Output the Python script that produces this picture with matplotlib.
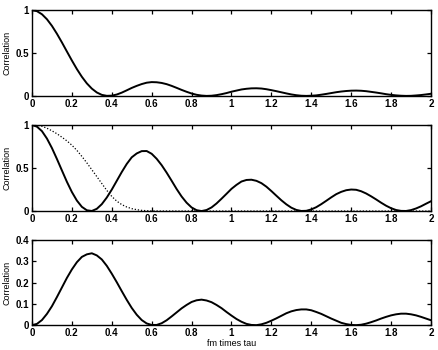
import matplotlib
matplotlib.use("Agg")
import matplotlib.pyplot as plt

fm_tau = [0.000, 0.025, 0.050, 0.075, 0.100, 0.125, 0.150, 0.175, 0.200, 0.225,
          0.250, 0.275, 0.300, 0.325, 0.350, 0.375, 0.400, 0.425, 0.450, 0.475,
          0.500, 0.525, 0.550, 0.575, 0.600, 0.625, 0.650, 0.675, 0.700, 0.725,
          0.750, 0.775, 0.800, 0.825, 0.850, 0.875, 0.900, 0.925, 0.950, 0.975,
          1.000, 1.025, 1.050, 1.075, 1.100, 1.125, 1.150, 1.175, 1.200, 1.225,
          1.250, 1.275, 1.300, 1.325, 1.350, 1.375, 1.400, 1.425, 1.450, 1.475,
          1.500, 1.525, 1.550, 1.575, 1.600, 1.625, 1.650, 1.675, 1.700, 1.725,
          1.750, 1.775, 1.800, 1.825, 1.850, 1.875, 1.900, 1.925, 1.950, 1.975,
          2.000]

top_corr = [1.000, 0.988, 0.952, 0.894, 0.817, 0.725, 0.624, 0.518, 0.413, 0.313,
            0.223, 0.146, 0.085, 0.040, 0.012, 0.001, 0.003, 0.016, 0.038, 0.065,
            0.093, 0.117, 0.138, 0.154, 0.161, 0.159, 0.151, 0.137, 0.117, 0.094,
            0.070, 0.048, 0.028, 0.013, 0.004, 0.000, 0.002, 0.009, 0.020, 0.033,
            0.049, 0.062, 0.075, 0.083, 0.088, 0.089, 0.086, 0.078, 0.067, 0.055,
            0.042, 0.029, 0.017, 0.008, 0.002, 0.000, 0.002, 0.006, 0.014, 0.023,
            0.033, 0.043, 0.051, 0.057, 0.061, 0.062, 0.060, 0.055, 0.047, 0.039,
            0.030, 0.020, 0.012, 0.006, 0.002, 0.000, 0.001, 0.005, 0.010, 0.017,
            0.025]

mid_corr = [1.000, 0.980, 0.928, 0.842, 0.732, 0.605, 0.472, 0.340, 0.221, 0.122,
            0.049, 0.009, 0.001, 0.026, 0.080, 0.157, 0.249, 0.351, 0.453, 0.547,
            0.624, 0.669, 0.696, 0.697, 0.665, 0.607, 0.533, 0.446, 0.352, 0.256,
            0.169, 0.097, 0.042, 0.010, 0.000, 0.012, 0.042, 0.088, 0.143, 0.200,
            0.258, 0.304, 0.343, 0.361, 0.364, 0.351, 0.324, 0.283, 0.232, 0.178,
            0.125, 0.078, 0.039, 0.013, 0.001, 0.003, 0.019, 0.045, 0.080, 0.119,
            0.159, 0.196, 0.223, 0.242, 0.250, 0.247, 0.230, 0.204, 0.171, 0.135,
            0.097, 0.062, 0.033, 0.012, 0.002, 0.001, 0.011, 0.030, 0.055, 0.085,
            0.114]

mid_dotted = [1.000, 0.996, 0.985, 0.962, 0.932, 0.898, 0.858, 0.815, 0.765, 0.705,
              0.635, 0.560, 0.480, 0.400, 0.320, 0.240, 0.170, 0.115, 0.075, 0.047,
              0.028, 0.016, 0.008, 0.004, 0.002, 0.001, 0.000, 0.000, 0.000, 0.000,
              0.000, 0.000, 0.000, 0.000, 0.000, 0.000, 0.000, 0.000, 0.000, 0.000,
              0.000, 0.000, 0.000, 0.000, 0.000, 0.000, 0.000, 0.000, 0.000, 0.000,
              0.000, 0.000, 0.000, 0.000, 0.000, 0.000, 0.000, 0.000, 0.000, 0.000,
              0.000, 0.000, 0.000, 0.000, 0.000, 0.000, 0.000, 0.000, 0.000, 0.000,
              0.000, 0.000, 0.000, 0.000, 0.000, 0.000, 0.000, 0.000, 0.000, 0.000,
              0.000]

bot_corr = [0.000, 0.006, 0.024, 0.053, 0.089, 0.132, 0.177, 0.222, 0.262, 0.296,
            0.321, 0.333, 0.338, 0.328, 0.309, 0.279, 0.242, 0.202, 0.160, 0.119,
            0.081, 0.049, 0.024, 0.008, 0.001, 0.001, 0.009, 0.023, 0.041, 0.060,
            0.079, 0.095, 0.109, 0.117, 0.120, 0.116, 0.108, 0.095, 0.080, 0.062,
            0.045, 0.029, 0.016, 0.006, 0.001, 0.000, 0.004, 0.011, 0.021, 0.032,
            0.044, 0.056, 0.065, 0.071, 0.074, 0.074, 0.070, 0.062, 0.053, 0.042,
            0.031, 0.021, 0.011, 0.005, 0.001, 0.000, 0.002, 0.007, 0.014, 0.022,
            0.031, 0.039, 0.046, 0.051, 0.054, 0.054, 0.051, 0.046, 0.039, 0.031,
            0.023]

x_ticks = [0, 0.2, 0.4, 0.6, 0.8, 1, 1.2, 1.4, 1.6, 1.8, 2]
x_tick_labels = ["0", "0.2", "0.4", "0.6", "0.8", "1", "1.2", "1.4", "1.6", "1.8", "2"]

plt.rcParams["font.family"] = ["Liberation Sans", "DejaVu Sans"]
plt.rcParams["font.weight"] = "bold"

fig = plt.figure(figsize=(4.38, 3.5), dpi=100)


def style_axis(ax, y_ticks, y_labels, y_max):
    ax.set_xlim(0, 2)
    ax.set_ylim(0, y_max)
    ax.set_xticks(x_ticks)
    ax.set_xticklabels(x_tick_labels)
    ax.set_yticks(y_ticks)
    ax.set_yticklabels(y_labels)
    ax.tick_params(direction="in", top=True, right=True, length=3, width=0.9,
                   labelsize=7, pad=2)
    for spine in ax.spines.values():
        spine.set_linewidth(1.0)
    ax.set_ylabel("Correlation", fontsize=6.5, labelpad=3)


ax1 = fig.add_axes([0.073, 0.726, 0.911, 0.245])
ax1.plot(fm_tau, top_corr, color="black", lw=1.4)
style_axis(ax1, [0, 0.5, 1], ["0", "0.5", "1"], 1)

ax2 = fig.add_axes([0.073, 0.397, 0.911, 0.246])
ax2.plot(fm_tau, mid_corr, color="black", lw=1.4)
ax2.plot(fm_tau, mid_dotted, color="black", lw=0.9, linestyle=(0, (1, 1.5)))
style_axis(ax2, [0, 0.5, 1], ["0", "0.5", "1"], 1)

ax3 = fig.add_axes([0.073, 0.071, 0.911, 0.243])
ax3.plot(fm_tau, bot_corr, color="black", lw=1.4)
style_axis(ax3, [0, 0.1, 0.2, 0.3, 0.4], ["0", "0.1", "0.2", "0.3", "0.4"], 0.4)
ax3.set_xlabel("fm times tau", fontsize=6.5, labelpad=1)

fig.savefig("out.png", dpi=100)
